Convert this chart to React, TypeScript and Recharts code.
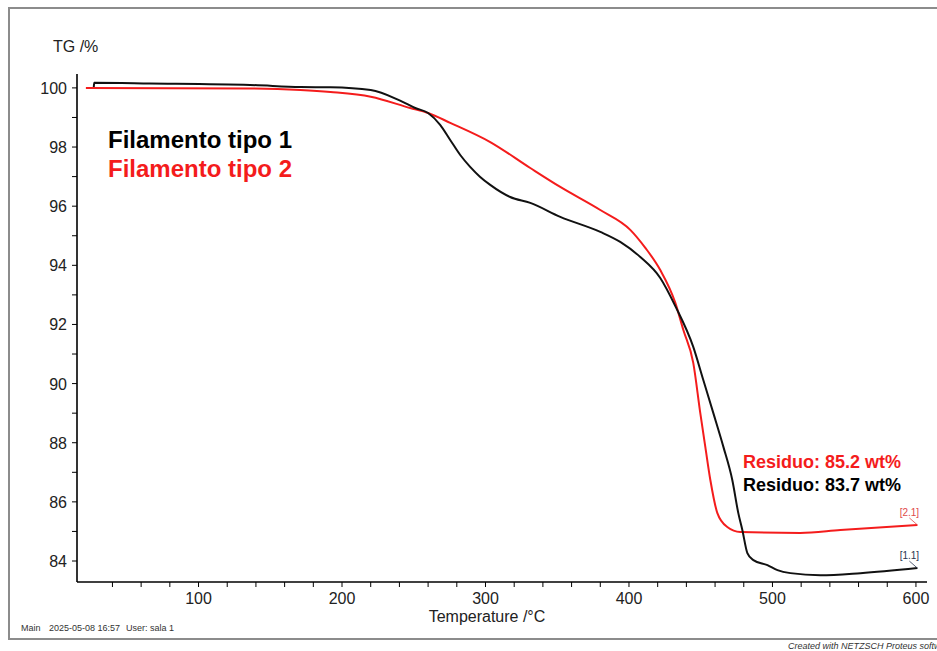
import { LineChart, Line, XAxis, YAxis } from 'recharts';

// Filamento tipo 1 (black)
const temp1 = [27.0, 27.3, 66, 136, 171, 192, 220, 240.5, 251, 260, 268.4, 275.4, 282.4, 289.3, 296.3, 303.3, 317.2, 331.2, 352.1, 380, 393.9, 407.9, 421.8, 432.3, 444.8, 451.8, 458.8, 465.8, 472.0, 476.2, 479.0, 482.5, 486.7, 496.5, 503.5, 512.5, 533.4, 561.3, 601];
const tg1 = [100.03, 100.17, 100.15, 100.1, 100.03, 100.02, 99.93, 99.57, 99.32, 99.15, 98.75, 98.24, 97.73, 97.33, 96.99, 96.72, 96.31, 96.11, 95.64, 95.13, 94.79, 94.28, 93.57, 92.62, 91.24, 90.12, 89.0, 87.86, 86.74, 85.62, 85.05, 84.27, 84.03, 83.86, 83.69, 83.59, 83.52, 83.59, 83.76];

// Filamento tipo 2 (red)
const temp2 = [21.5, 136, 171, 192, 220, 247.5, 260, 275.4, 303.3, 331.2, 352.1, 380, 400.9, 411.4, 421.8, 432.3, 437.9, 444.8, 449.7, 453.2, 456.7, 461.6, 468.5, 477.6, 519.4, 547.3, 601];
const tg2 = [100.0, 99.98, 99.93, 99.86, 99.7, 99.32, 99.15, 98.82, 98.17, 97.29, 96.65, 95.87, 95.2, 94.59, 93.84, 92.73, 91.81, 90.7, 89.0, 87.86, 86.74, 85.62, 85.15, 84.98, 84.95, 85.05, 85.22];

const xTicks = [40, 60, 80, 100, 120, 140, 160, 180, 200, 220, 240, 260, 280, 300, 320, 340, 360, 380, 400, 420, 440, 460, 480, 500, 520, 540, 560, 580, 600];
const xLabels = [100, 200, 300, 400, 500, 600];
const yTicks = [84, 85, 86, 87, 88, 89, 90, 91, 92, 93, 94, 95, 96, 97, 98, 99, 100];
const yLabels = [84, 86, 88, 90, 92, 94, 96, 98, 100];

const data1 = temp1.map((t, i) => ({ t, tg: tg1[i] }));
const data2 = temp2.map((t, i) => ({ t, tg: tg2[i] }));

const FONT = '"Liberation Sans", Arial, sans-serif';
const RED = '#f41c1c';

const XTick = (props: any) => {
    const { x, y, payload } = props;
    const v = payload.value;
    return (
        <g>
            <line x1={x} x2={x} y1={y} y2={y + 5} stroke="#000" strokeWidth={1} />
            {xLabels.includes(v) && (
                <text x={x} y={y + 22} textAnchor="middle" fontSize={16} fontFamily={FONT} fill="#222">
                    {v}
                </text>
            )}
        </g>
    );
};

const YTick = (props: any) => {
    const { x, y, payload } = props;
    const v = payload.value;
    return (
        <g>
            <line x1={x - 5} x2={x} y1={y} y2={y} stroke="#000" strokeWidth={1} />
            {yLabels.includes(v) && (
                <text x={x - 10} y={y + 6} textAnchor="end" fontSize={16} fontFamily={FONT} fill="#222">
                    {v}
                </text>
            )}
        </g>
    );
};

const endLabel = (text: string, color: string, lastIndex: number) => (props: any) => {
    const { x, y, index } = props;
    if (index !== lastIndex) return <g />;
    return (
        <g>
            <line x1={x - 8} y1={y - 7} x2={x} y2={y} stroke={color} strokeWidth={0.8} />
            <text x={x - 8} y={y - 9} textAnchor="middle" fontSize={10} fontFamily={FONT} fill={color}>
                {text}
            </text>
        </g>
    );
};

export default function App() {
    return (
        <div style={{ position: 'fixed', left: 0, top: 0, width: 937, height: 651, overflow: 'hidden', background: '#fff', fontFamily: FONT }}>
            <div
                style={{
                    position: 'absolute',
                    left: 8,
                    top: 7,
                    width: 945,
                    height: 633,
                    border: '2px solid #8c8c8c',
                    boxSizing: 'border-box',
                }}
            />
            <div style={{ position: 'absolute', left: 8, top: 8 }}>
                <LineChart width={929} height={643} margin={{ top: 66, right: 10, left: 9, bottom: 39 }}>
                    <XAxis
                        type="number"
                        dataKey="t"
                        domain={[15.3, 607.7]}
                        allowDataOverflow
                        ticks={xTicks}
                        interval={0}
                        height={30}
                        tickSize={0}
                        tickMargin={0}
                        tickLine={false}
                        axisLine={{ stroke: '#000', strokeWidth: 1.6 }}
                        tick={<XTick />}
                    />
                    <YAxis
                        type="number"
                        domain={[83.29, 100.47]}
                        allowDataOverflow
                        ticks={yTicks}
                        interval={0}
                        width={60}
                        tickSize={0}
                        tickMargin={0}
                        tickLine={false}
                        axisLine={{ stroke: '#000', strokeWidth: 1.6 }}
                        tick={<YTick />}
                    />
                    <Line
                        data={data2}
                        dataKey="tg"
                        type="monotone"
                        stroke={RED}
                        strokeWidth={2}
                        dot={false}
                        activeDot={false}
                        isAnimationActive={false}
                        label={endLabel('[2.1]', '#e04a4a', data2.length - 1)}
                    />
                    <Line
                        data={data1}
                        dataKey="tg"
                        type="monotone"
                        stroke="#111"
                        strokeWidth={2}
                        dot={false}
                        activeDot={false}
                        isAnimationActive={false}
                        label={endLabel('[1.1]', '#2a3550', data1.length - 1)}
                    />
                </LineChart>
            </div>
            <svg width={937} height={651} style={{ position: 'absolute', left: 0, top: 0, pointerEvents: 'none' }}>
                <text x={53} y={52} fontSize={16} fontFamily={FONT} fill="#222">TG /%</text>
                <text x={487} y={622} textAnchor="middle" fontSize={16} fontFamily={FONT} fill="#222">Temperature /°C</text>
                <text x={108} y={148} fontSize={24} fontWeight="bold" fontFamily={FONT} fill="#000">Filamento tipo 1</text>
                <text x={108} y={177} fontSize={24} fontWeight="bold" fontFamily={FONT} fill={RED}>Filamento tipo 2</text>
                <text x={743} y={468} fontSize={18} fontWeight="bold" fontFamily={FONT} fill={RED}>Residuo: 85.2 wt%</text>
                <text x={743} y={491} fontSize={18} fontWeight="bold" fontFamily={FONT} fill="#000">Residuo: 83.7 wt%</text>
                <text x={21} y={631} fontSize={9} fontFamily={FONT} fill="#333">Main</text>
                <text x={49} y={631} fontSize={9} fontFamily={FONT} fill="#333">2025-05-08 16:57</text>
                <text x={126} y={631} fontSize={9} fontFamily={FONT} fill="#333">User: sala 1</text>
                <text x={788} y={649} fontSize={9} fontStyle="italic" fontFamily={FONT} fill="#333">Created with NETZSCH Proteus software</text>
            </svg>
        </div>
    );
}
